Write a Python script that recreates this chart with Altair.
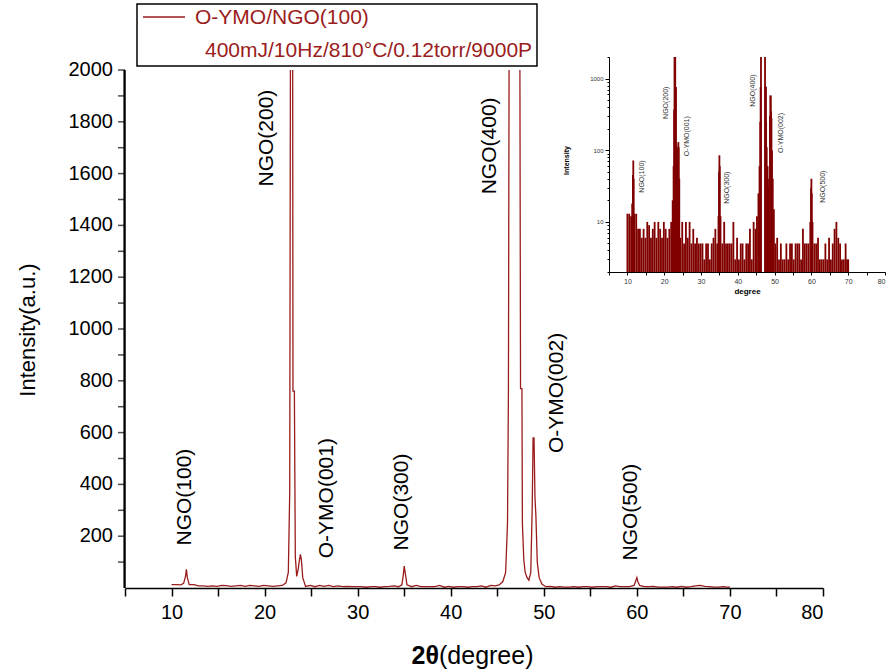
import altair as alt
import pandas as pd

# ---------------- data ----------------
two_theta = [10.0, 10.5, 11.0, 11.3, 11.5, 11.6, 11.7, 11.9, 12.4, 12.9, 13.4, 13.9, 14.4, 14.9,
             15.4, 15.9, 16.4, 16.9, 17.4, 17.9, 18.4, 18.9, 19.4, 19.9, 20.4, 20.9, 21.4, 21.9,
             22.3, 22.55, 22.7, 22.8, 23.0, 23.05, 23.2, 23.3, 23.45, 23.6, 23.75, 23.85, 23.95,
             24.1, 24.4, 24.9, 25.4, 25.9, 26.4, 26.9, 27.4, 27.9, 28.4, 28.9, 29.4, 29.9, 30.4,
             30.9, 31.4, 31.9, 32.4, 32.9, 33.4, 33.9, 34.4, 34.75, 34.9, 35.0, 35.1, 35.3, 35.8,
             36.3, 36.8, 37.3, 37.8, 38.3, 38.8, 39.3, 39.8, 40.3, 40.8, 41.3, 41.8, 42.3, 42.8,
             43.3, 43.8, 44.3, 44.8, 45.2, 45.6, 45.9, 46.1, 46.2, 46.3, 47.4, 47.5, 47.65, 47.7,
             47.85, 48.0, 48.2, 48.4, 48.6, 48.75, 48.85, 48.95, 49.05, 49.15, 49.3, 49.5, 49.8,
             50.2, 50.7, 51.2, 51.7, 52.2, 52.7, 53.2, 53.7, 54.2, 54.7, 55.2, 55.7, 56.2, 56.7,
             57.2, 57.7, 58.2, 58.7, 59.2, 59.7, 59.9, 60.0, 60.1, 60.3, 60.8, 61.3, 61.8, 62.3,
             62.8, 63.3, 63.8, 64.3, 64.8, 65.3, 65.8, 66.3, 66.8, 67.3, 67.8, 68.3, 68.8, 69.3,
             69.7, 70.0]
counts = [13, 13, 12, 18, 45, 72, 40, 13, 13, 8, 8, 6, 8, 6,
          10, 9, 6, 8, 10, 6, 10, 8, 6, 10, 8, 6, 8, 10,
          20, 60, 370, 2600, 2600, 760, 760, 120, 45, 70, 110, 130, 110,
          40, 6, 10, 5, 10, 6, 10, 5, 8, 5, 6, 5, 5, 5,
          3, 5, 5, 3, 5, 6, 8, 5, 12, 50, 85, 60, 12, 5,
          10, 5, 5, 5, 5, 10, 3, 6, 3, 5, 5, 3, 5, 5,
          8, 3, 10, 8, 12, 25, 60, 250, 760, 2600, 2600, 770, 770, 250,
          110, 60, 40, 30, 60, 300, 580, 580, 350, 280, 100, 40, 15,
          5, 6, 3, 5, 3, 3, 5, 3, 5, 5, 3, 5, 5, 5,
          3, 8, 5, 5, 5, 10, 30, 40, 25, 10, 5, 5, 6, 3,
          3, 3, 5, 3, 6, 3, 5, 8, 10, 6, 5, 3, 3, 5,
          3, 3]

peak_names = ["NGO(100)", "NGO(200)", "O-YMO(001)", "NGO(300)", "NGO(400)", "O-YMO(002)", "NGO(500)"]
main_label_theta = [11.4, 20.3, 26.7, 34.8, 44.2, 51.4, 59.4]
main_label_counts = [351, 1737, 347, 332, 1707, 753, 293]
inset_label_theta = [14.1, 20.5, 26.2, 37.0, 44.1, 51.7, 63.2]
inset_label_counts = [43, 460, 157, 30, 680, 174, 31]

legend_name = "O-YMO/NGO(100)"
legend_condition = "400mJ/10Hz/810°C/0.12torr/9000P"

x_extent = [5, 80]
x_ticks = list(range(5, 81, 5))
y_ticks = list(range(100, 2001, 100))
y_labels = list(range(200, 2001, 200))
y_extent = [0, 2000]
inset_y_ticks = [2, 3, 4, 5, 6, 7, 8, 9, 10, 20, 30, 40, 50, 60, 70, 80, 90,
                 100, 200, 300, 400, 500, 600, 700, 800, 900, 1000, 2000]

# ---------------- layout constants ----------------
W, H = 698, 518
RED = "#9b1c1c"
DARK = "#800000"
FONT = "Liberation Sans"

df = pd.DataFrame({"theta": two_theta, "counts": counts})
lab_main = pd.DataFrame({"theta": main_label_theta, "counts": main_label_counts, "name": peak_names})
lab_in = pd.DataFrame({"theta": inset_label_theta, "counts": inset_label_counts, "name": peak_names})
ytick_df = pd.DataFrame({"v": y_ticks})
ylab_df = pd.DataFrame({"v": y_labels})
yline_df = pd.DataFrame({"t": [x_extent[0], x_extent[0]], "v": y_extent})
yspan_df = pd.DataFrame({"lo": [y_extent[0]], "hi": [y_extent[1]]})
one = pd.DataFrame({"a": [0]})

# ---------------- main plot ----------------
xs_main = alt.Scale(domain=x_extent, nice=False, zero=False)
ys_main = alt.Scale(domain=y_extent, nice=False, zero=False)

main_line = alt.Chart(df).mark_line(color=RED, strokeWidth=1.3, clip=True).encode(
    x=alt.X("theta:Q", scale=xs_main,
            axis=alt.Axis(values=x_ticks, format="d", labelOverlap=False,
                          labelExpr="datum.value % 10 == 0 ? datum.label : ''",
                          title=None, tickSize=8, labelPadding=6, labelFontSize=20,
                          domain=True, domainWidth=1.5, tickWidth=1.5, grid=False, zindex=1)),
    y=alt.Y("counts:Q", scale=ys_main, axis=None),
)

# left axis line of the main plot: a thin filled strip plus a two-point line
yaxis_strip = alt.Chart(yspan_df).mark_rect(color="black").encode(
    x=alt.value(-1.6),
    x2=alt.value(0),
    y=alt.Y("lo:Q", scale=ys_main, axis=None),
    y2="hi:Q",
)
yaxis_line = alt.Chart(yline_df).mark_line(color="black", strokeWidth=1.5).encode(
    x=alt.X("t:Q", scale=xs_main),
    y=alt.Y("v:Q", scale=ys_main, axis=None),
)
ytick_marks = alt.Chart(ytick_df).mark_tick(color="black", thickness=1.5, size=7,
                                            orient="horizontal").encode(
    y=alt.Y("v:Q", scale=ys_main, axis=None),
    x=alt.value(-3.5),
)
ylab_marks = alt.Chart(ylab_df).mark_text(font=FONT, fontSize=20, color="black",
                                          align="right", baseline="middle").encode(
    y=alt.Y("v:Q", scale=ys_main, axis=None),
    x=alt.value(-12),
    text=alt.Text("v:Q", format="d"),
)

main_text = alt.Chart(lab_main).mark_text(angle=270, fontSize=21, font=FONT, color="black",
                                          align="center", baseline="middle").encode(
    x=alt.X("theta:Q", scale=xs_main),
    y=alt.Y("counts:Q", scale=ys_main, axis=None),
    text="name:N",
)

main = alt.layer(main_line, yaxis_strip, yaxis_line, ytick_marks, ylab_marks, main_text)

# ---------------- inset (log scale) ----------------
xs_in = alt.Scale(domain=x_extent, range=[484, 760], nice=False, zero=False)
ys_in = alt.Scale(type="log", domain=[2, 2000], range=[202, -13], clamp=True, nice=False)

inset_bars = alt.Chart(df).mark_rule(color=DARK, strokeWidth=1.8).encode(
    x=alt.X("theta:Q", scale=xs_in,
            axis=alt.Axis(orient="bottom", offset=-316, values=x_ticks, format="d",
                          labelOverlap=False,
                          labelExpr="datum.value % 10 == 0 ? datum.label : ''",
                          title="degree", titleFontSize=8, titleFontWeight="bold",
                          titlePadding=3, tickSize=3, labelPadding=2, labelFontSize=7,
                          labelColor="#333333", grid=False)),
    y=alt.Y("counts:Q", scale=ys_in,
            axis=alt.Axis(orient="left", offset=-484, values=inset_y_ticks, format="d",
                          labelOverlap=False,
                          labelExpr="datum.value == 10 || datum.value == 100 || datum.value == 1000 ? datum.label : ''",
                          tickSize={"condition": {"test": "datum.value == 10 || datum.value == 100 || datum.value == 1000", "value": 4}, "value": 2},
                          title="Intensity", titleFontSize=7, titleFontWeight="bold",
                          titleX=-43, titleY=90, titleAlign="center", titleBaseline="middle",
                          labelPadding=2, labelFontSize=6, labelColor="#333333", grid=False)),
    y2=alt.value(202),
)

inset_text = alt.Chart(lab_in).mark_text(angle=270, fontSize=7, font=FONT, color="#333333",
                                         align="center", baseline="middle").encode(
    x=alt.X("theta:Q", scale=xs_in),
    y=alt.Y("counts:Q", scale=ys_in),
    text="name:N",
)

inset = alt.layer(inset_bars, inset_text)

# ---------------- legend box and axis titles ----------------
box = alt.Chart(one).mark_rect(fill="white", stroke="black", strokeWidth=1.5).encode(
    x=alt.value(12), x2=alt.value(412), y=alt.value(-66), y2=alt.value(-4))
leg_line = alt.Chart(one).mark_rule(color=RED, strokeWidth=1.5).encode(
    x=alt.value(18), x2=alt.value(60), y=alt.value(-53))
leg_t1 = alt.Chart(one).mark_text(font=FONT, fontSize=21, color=RED, align="left",
                                  baseline="middle").encode(
    x=alt.value(70), y=alt.value(-52), text=alt.value(legend_name))
leg_t2 = alt.Chart(one).mark_text(font=FONT, fontSize=21, color=RED, align="left",
                                  baseline="middle").encode(
    x=alt.value(80), y=alt.value(-19), text=alt.value(legend_condition))

ytitle = alt.Chart(one).mark_text(font=FONT, fontSize=22, color="black", angle=270,
                                  align="center", baseline="middle").encode(
    x=alt.value(-97), y=alt.value(260), text=alt.value("Intensity(a.u.)"))

xt1 = alt.Chart(one).mark_text(font=FONT, fontSize=25, fontWeight="bold", color="black",
                               align="right", baseline="middle").encode(
    x=alt.value(314), y=alt.value(586), text=alt.value("2θ"))
xt2 = alt.Chart(one).mark_text(font=FONT, fontSize=25, color="black", align="left",
                               baseline="middle").encode(
    x=alt.value(314), y=alt.value(586), text=alt.value("(degree)"))

chart = alt.layer(main, inset, box, leg_line, leg_t1, leg_t2, ytitle, xt1, xt2).resolve_scale(
    x="independent", y="independent"
).properties(
    width=W, height=H, autosize="none",
    padding={"left": 125, "top": 70, "right": 890 - 125 - W, "bottom": 672 - 70 - H},
    background="white",
).configure_view(stroke=None).configure_axis(
    labelFont=FONT, titleFont=FONT, domainColor="black", tickColor="black",
    labelColor="black", titleColor="black",
)

chart.save("out.html", embed_options={"renderer": "svg", "actions": False})
